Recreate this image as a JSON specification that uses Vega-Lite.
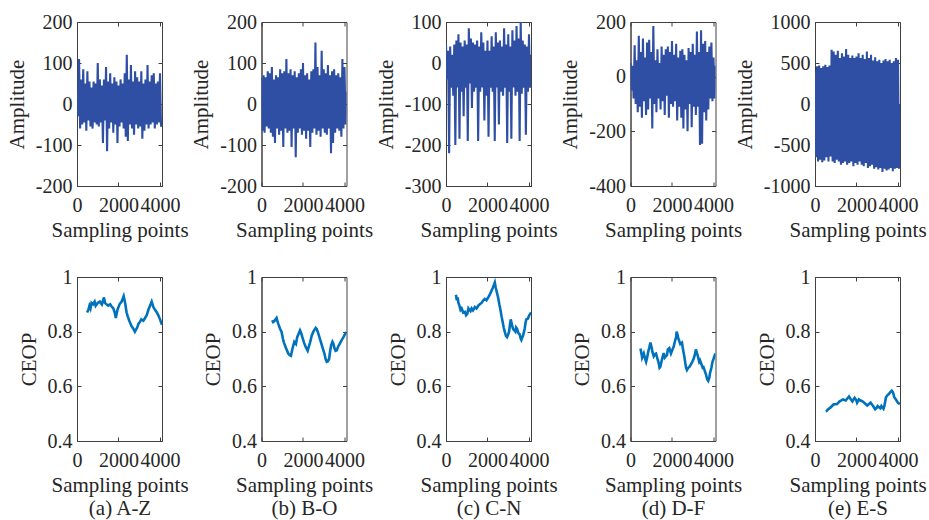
{
"$schema":"https://vega.github.io/schema/vega-lite/v6.json",
"background":"white",
"padding":{"left":5,"top":11,"right":5,"bottom":5},
"bounds":"flush",
"columns":5,
"spacing":{"row":91,"column":99.5},
"config":{
 "view":{"stroke":"#404040","strokeWidth":1},
 "font":"Liberation Serif",
 "axis":{"labelFont":"Liberation Serif","titleFont":"Liberation Serif","labelFontSize":20,"titleFontSize":21,"labelColor":"#262626","titleColor":"#262626","titleFontWeight":"normal","domainColor":"#404040","tickColor":"#404040","tickSize":-4,"grid":false,"labelFlush":false,"labelOverlap":false,"titleLineHeight":23},
 "axisX":{"labelPadding":13,"titlePadding":4},
 "axisY":{"labelPadding":9,"titlePadding":8}
},
"datasets":{
"top":[
{"s":"A","x":0,"y":35},{"s":"A","x":50,"y":-30},{"s":"A","x":100,"y":110},{"s":"A","x":150,"y":-60},{"s":"A","x":200,"y":60},{"s":"A","x":250,"y":-50},{"s":"A","x":300,"y":85},{"s":"A","x":350,"y":-45},{"s":"A","x":400,"y":50},{"s":"A","x":450,"y":-65},{"s":"A","x":500,"y":80},{"s":"A","x":550,"y":-40},{"s":"A","x":600,"y":55},{"s":"A","x":650,"y":-55},{"s":"A","x":700,"y":40},{"s":"A","x":750,"y":-60},{"s":"A","x":800,"y":55},{"s":"A","x":850,"y":-45},{"s":"A","x":900,"y":50},{"s":"A","x":950,"y":-50},{"s":"A","x":1000,"y":100},{"s":"A","x":1050,"y":-55},{"s":"A","x":1100,"y":60},{"s":"A","x":1150,"y":-45},{"s":"A","x":1200,"y":45},{"s":"A","x":1250,"y":-95},{"s":"A","x":1300,"y":60},{"s":"A","x":1350,"y":-40},{"s":"A","x":1400,"y":90},{"s":"A","x":1450,"y":-115},{"s":"A","x":1500,"y":55},{"s":"A","x":1550,"y":-60},{"s":"A","x":1600,"y":75},{"s":"A","x":1650,"y":-45},{"s":"A","x":1700,"y":50},{"s":"A","x":1750,"y":-70},{"s":"A","x":1800,"y":65},{"s":"A","x":1850,"y":-50},{"s":"A","x":1900,"y":55},{"s":"A","x":1950,"y":-95},{"s":"A","x":2000,"y":45},{"s":"A","x":2050,"y":-55},{"s":"A","x":2100,"y":60},{"s":"A","x":2150,"y":-45},{"s":"A","x":2200,"y":50},{"s":"A","x":2250,"y":-60},{"s":"A","x":2300,"y":75},{"s":"A","x":2350,"y":-80},{"s":"A","x":2400,"y":120},{"s":"A","x":2450,"y":-90},{"s":"A","x":2500,"y":60},{"s":"A","x":2550,"y":-50},{"s":"A","x":2600,"y":95},{"s":"A","x":2650,"y":-60},{"s":"A","x":2700,"y":55},{"s":"A","x":2750,"y":-75},{"s":"A","x":2800,"y":80},{"s":"A","x":2850,"y":-50},{"s":"A","x":2900,"y":65},{"s":"A","x":2950,"y":-60},{"s":"A","x":3000,"y":55},{"s":"A","x":3050,"y":-55},{"s":"A","x":3100,"y":80},{"s":"A","x":3150,"y":-85},{"s":"A","x":3200,"y":50},{"s":"A","x":3250,"y":-65},{"s":"A","x":3300,"y":60},{"s":"A","x":3350,"y":-50},{"s":"A","x":3400,"y":95},{"s":"A","x":3450,"y":-60},{"s":"A","x":3500,"y":55},{"s":"A","x":3550,"y":-50},{"s":"A","x":3600,"y":70},{"s":"A","x":3650,"y":-45},{"s":"A","x":3700,"y":75},{"s":"A","x":3750,"y":-60},{"s":"A","x":3800,"y":50},{"s":"A","x":3850,"y":-50},{"s":"A","x":3900,"y":55},{"s":"A","x":3950,"y":-45},{"s":"A","x":4000,"y":75},{"s":"A","x":4050,"y":-55},{"s":"A","x":4097,"y":-50},
{"s":"B","x":0,"y":65},{"s":"B","x":50,"y":-65},{"s":"B","x":100,"y":70},{"s":"B","x":150,"y":-70},{"s":"B","x":200,"y":65},{"s":"B","x":250,"y":-55},{"s":"B","x":300,"y":80},{"s":"B","x":350,"y":-60},{"s":"B","x":400,"y":75},{"s":"B","x":450,"y":-70},{"s":"B","x":500,"y":90},{"s":"B","x":550,"y":-80},{"s":"B","x":600,"y":60},{"s":"B","x":650,"y":-95},{"s":"B","x":700,"y":70},{"s":"B","x":750,"y":-60},{"s":"B","x":800,"y":65},{"s":"B","x":850,"y":-75},{"s":"B","x":900,"y":85},{"s":"B","x":950,"y":-65},{"s":"B","x":1000,"y":75},{"s":"B","x":1050,"y":-105},{"s":"B","x":1100,"y":80},{"s":"B","x":1150,"y":-60},{"s":"B","x":1200,"y":110},{"s":"B","x":1250,"y":-70},{"s":"B","x":1300,"y":75},{"s":"B","x":1350,"y":-65},{"s":"B","x":1400,"y":85},{"s":"B","x":1450,"y":-105},{"s":"B","x":1500,"y":70},{"s":"B","x":1550,"y":-60},{"s":"B","x":1600,"y":80},{"s":"B","x":1650,"y":-130},{"s":"B","x":1700,"y":65},{"s":"B","x":1750,"y":-70},{"s":"B","x":1800,"y":75},{"s":"B","x":1850,"y":-60},{"s":"B","x":1900,"y":85},{"s":"B","x":1950,"y":-75},{"s":"B","x":2000,"y":100},{"s":"B","x":2050,"y":-65},{"s":"B","x":2100,"y":70},{"s":"B","x":2150,"y":-85},{"s":"B","x":2200,"y":75},{"s":"B","x":2250,"y":-65},{"s":"B","x":2300,"y":60},{"s":"B","x":2350,"y":-105},{"s":"B","x":2400,"y":80},{"s":"B","x":2450,"y":-70},{"s":"B","x":2500,"y":85},{"s":"B","x":2550,"y":-60},{"s":"B","x":2600,"y":150},{"s":"B","x":2650,"y":-75},{"s":"B","x":2700,"y":90},{"s":"B","x":2750,"y":-65},{"s":"B","x":2800,"y":70},{"s":"B","x":2850,"y":-80},{"s":"B","x":2900,"y":130},{"s":"B","x":2950,"y":-60},{"s":"B","x":3000,"y":85},{"s":"B","x":3050,"y":-70},{"s":"B","x":3100,"y":75},{"s":"B","x":3150,"y":-75},{"s":"B","x":3200,"y":95},{"s":"B","x":3250,"y":-60},{"s":"B","x":3300,"y":70},{"s":"B","x":3350,"y":-120},{"s":"B","x":3400,"y":80},{"s":"B","x":3450,"y":-95},{"s":"B","x":3500,"y":85},{"s":"B","x":3550,"y":-70},{"s":"B","x":3600,"y":70},{"s":"B","x":3650,"y":-60},{"s":"B","x":3700,"y":75},{"s":"B","x":3750,"y":-65},{"s":"B","x":3800,"y":65},{"s":"B","x":3850,"y":-80},{"s":"B","x":3900,"y":110},{"s":"B","x":3950,"y":-60},{"s":"B","x":4000,"y":90},{"s":"B","x":4050,"y":-50},{"s":"B","x":4097,"y":30},
{"s":"C","x":0,"y":45},{"s":"C","x":50,"y":-40},{"s":"C","x":100,"y":30},{"s":"C","x":150,"y":-220},{"s":"C","x":200,"y":40},{"s":"C","x":250,"y":-60},{"s":"C","x":300,"y":20},{"s":"C","x":350,"y":-80},{"s":"C","x":400,"y":45},{"s":"C","x":450,"y":-200},{"s":"C","x":500,"y":55},{"s":"C","x":550,"y":-60},{"s":"C","x":600,"y":70},{"s":"C","x":650,"y":-185},{"s":"C","x":700,"y":50},{"s":"C","x":750,"y":-70},{"s":"C","x":800,"y":40},{"s":"C","x":850,"y":-130},{"s":"C","x":900,"y":55},{"s":"C","x":950,"y":-60},{"s":"C","x":1000,"y":45},{"s":"C","x":1050,"y":-190},{"s":"C","x":1100,"y":85},{"s":"C","x":1150,"y":-50},{"s":"C","x":1200,"y":60},{"s":"C","x":1250,"y":-110},{"s":"C","x":1300,"y":50},{"s":"C","x":1350,"y":-70},{"s":"C","x":1400,"y":45},{"s":"C","x":1450,"y":-60},{"s":"C","x":1500,"y":55},{"s":"C","x":1550,"y":-190},{"s":"C","x":1600,"y":40},{"s":"C","x":1650,"y":-70},{"s":"C","x":1700,"y":75},{"s":"C","x":1750,"y":-60},{"s":"C","x":1800,"y":50},{"s":"C","x":1850,"y":-140},{"s":"C","x":1900,"y":30},{"s":"C","x":1950,"y":-80},{"s":"C","x":2000,"y":55},{"s":"C","x":2050,"y":-180},{"s":"C","x":2100,"y":30},{"s":"C","x":2150,"y":-60},{"s":"C","x":2200,"y":65},{"s":"C","x":2250,"y":-70},{"s":"C","x":2300,"y":40},{"s":"C","x":2350,"y":-190},{"s":"C","x":2400,"y":75},{"s":"C","x":2450,"y":-60},{"s":"C","x":2500,"y":50},{"s":"C","x":2550,"y":-150},{"s":"C","x":2600,"y":55},{"s":"C","x":2650,"y":-70},{"s":"C","x":2700,"y":40},{"s":"C","x":2750,"y":-80},{"s":"C","x":2800,"y":85},{"s":"C","x":2850,"y":-60},{"s":"C","x":2900,"y":45},{"s":"C","x":2950,"y":-195},{"s":"C","x":3000,"y":70},{"s":"C","x":3050,"y":-70},{"s":"C","x":3100,"y":40},{"s":"C","x":3150,"y":-185},{"s":"C","x":3200,"y":80},{"s":"C","x":3250,"y":-60},{"s":"C","x":3300,"y":55},{"s":"C","x":3350,"y":-80},{"s":"C","x":3400,"y":90},{"s":"C","x":3450,"y":-70},{"s":"C","x":3500,"y":60},{"s":"C","x":3550,"y":-190},{"s":"C","x":3600,"y":100},{"s":"C","x":3650,"y":-75},{"s":"C","x":3700,"y":55},{"s":"C","x":3750,"y":-60},{"s":"C","x":3800,"y":45},{"s":"C","x":3850,"y":-175},{"s":"C","x":3900,"y":40},{"s":"C","x":3950,"y":-70},{"s":"C","x":4000,"y":70},{"s":"C","x":4050,"y":-60},{"s":"C","x":4097,"y":20},
{"s":"D","x":0,"y":50},{"s":"D","x":50,"y":-50},{"s":"D","x":100,"y":40},{"s":"D","x":150,"y":-80},{"s":"D","x":200,"y":115},{"s":"D","x":250,"y":-100},{"s":"D","x":300,"y":60},{"s":"D","x":350,"y":-130},{"s":"D","x":400,"y":150},{"s":"D","x":450,"y":-110},{"s":"D","x":500,"y":90},{"s":"D","x":550,"y":-150},{"s":"D","x":600,"y":140},{"s":"D","x":650,"y":-90},{"s":"D","x":700,"y":70},{"s":"D","x":750,"y":-140},{"s":"D","x":800,"y":125},{"s":"D","x":850,"y":-120},{"s":"D","x":900,"y":135},{"s":"D","x":950,"y":-80},{"s":"D","x":1000,"y":90},{"s":"D","x":1050,"y":-190},{"s":"D","x":1100,"y":185},{"s":"D","x":1150,"y":-100},{"s":"D","x":1200,"y":60},{"s":"D","x":1250,"y":-130},{"s":"D","x":1300,"y":100},{"s":"D","x":1350,"y":-80},{"s":"D","x":1400,"y":50},{"s":"D","x":1450,"y":-120},{"s":"D","x":1500,"y":110},{"s":"D","x":1550,"y":-90},{"s":"D","x":1600,"y":80},{"s":"D","x":1650,"y":-140},{"s":"D","x":1700,"y":100},{"s":"D","x":1750,"y":-70},{"s":"D","x":1800,"y":110},{"s":"D","x":1850,"y":-150},{"s":"D","x":1900,"y":90},{"s":"D","x":1950,"y":-100},{"s":"D","x":2000,"y":130},{"s":"D","x":2050,"y":-110},{"s":"D","x":2100,"y":80},{"s":"D","x":2150,"y":-90},{"s":"D","x":2200,"y":120},{"s":"D","x":2250,"y":-160},{"s":"D","x":2300,"y":70},{"s":"D","x":2350,"y":-110},{"s":"D","x":2400,"y":95},{"s":"D","x":2450,"y":-150},{"s":"D","x":2500,"y":100},{"s":"D","x":2550,"y":-190},{"s":"D","x":2600,"y":80},{"s":"D","x":2650,"y":-120},{"s":"D","x":2700,"y":60},{"s":"D","x":2750,"y":-200},{"s":"D","x":2800,"y":105},{"s":"D","x":2850,"y":-100},{"s":"D","x":2900,"y":90},{"s":"D","x":2950,"y":-185},{"s":"D","x":3000,"y":120},{"s":"D","x":3050,"y":-110},{"s":"D","x":3100,"y":80},{"s":"D","x":3150,"y":-140},{"s":"D","x":3200,"y":165},{"s":"D","x":3250,"y":-110},{"s":"D","x":3300,"y":90},{"s":"D","x":3350,"y":-250},{"s":"D","x":3400,"y":170},{"s":"D","x":3450,"y":-245},{"s":"D","x":3500,"y":120},{"s":"D","x":3550,"y":-130},{"s":"D","x":3600,"y":130},{"s":"D","x":3650,"y":-160},{"s":"D","x":3700,"y":90},{"s":"D","x":3750,"y":-120},{"s":"D","x":3800,"y":110},{"s":"D","x":3850,"y":-80},{"s":"D","x":3900,"y":125},{"s":"D","x":3950,"y":-90},{"s":"D","x":4000,"y":70},{"s":"D","x":4050,"y":-80},{"s":"D","x":4097,"y":40},
{"s":"E","x":0,"y":380},{"s":"E","x":50,"y":-650},{"s":"E","x":100,"y":460},{"s":"E","x":150,"y":-700},{"s":"E","x":200,"y":470},{"s":"E","x":250,"y":-680},{"s":"E","x":300,"y":440},{"s":"E","x":350,"y":-710},{"s":"E","x":400,"y":460},{"s":"E","x":450,"y":-690},{"s":"E","x":500,"y":480},{"s":"E","x":550,"y":-650},{"s":"E","x":600,"y":450},{"s":"E","x":650,"y":-700},{"s":"E","x":700,"y":470},{"s":"E","x":750,"y":-640},{"s":"E","x":800,"y":660},{"s":"E","x":850,"y":-700},{"s":"E","x":900,"y":640},{"s":"E","x":950,"y":-720},{"s":"E","x":1000,"y":600},{"s":"E","x":1050,"y":-680},{"s":"E","x":1100,"y":650},{"s":"E","x":1150,"y":-700},{"s":"E","x":1200,"y":560},{"s":"E","x":1250,"y":-740},{"s":"E","x":1300,"y":620},{"s":"E","x":1350,"y":-720},{"s":"E","x":1400,"y":580},{"s":"E","x":1450,"y":-700},{"s":"E","x":1500,"y":670},{"s":"E","x":1550,"y":-740},{"s":"E","x":1600,"y":600},{"s":"E","x":1650,"y":-720},{"s":"E","x":1700,"y":560},{"s":"E","x":1750,"y":-700},{"s":"E","x":1800,"y":590},{"s":"E","x":1850,"y":-760},{"s":"E","x":1900,"y":560},{"s":"E","x":1950,"y":-720},{"s":"E","x":2000,"y":580},{"s":"E","x":2050,"y":-740},{"s":"E","x":2100,"y":620},{"s":"E","x":2150,"y":-700},{"s":"E","x":2200,"y":560},{"s":"E","x":2250,"y":-740},{"s":"E","x":2300,"y":600},{"s":"E","x":2350,"y":-760},{"s":"E","x":2400,"y":550},{"s":"E","x":2450,"y":-720},{"s":"E","x":2500,"y":640},{"s":"E","x":2550,"y":-780},{"s":"E","x":2600,"y":560},{"s":"E","x":2650,"y":-760},{"s":"E","x":2700,"y":600},{"s":"E","x":2750,"y":-740},{"s":"E","x":2800,"y":530},{"s":"E","x":2850,"y":-790},{"s":"E","x":2900,"y":570},{"s":"E","x":2950,"y":-770},{"s":"E","x":3000,"y":520},{"s":"E","x":3050,"y":-800},{"s":"E","x":3100,"y":540},{"s":"E","x":3150,"y":-780},{"s":"E","x":3200,"y":500},{"s":"E","x":3250,"y":-830},{"s":"E","x":3300,"y":530},{"s":"E","x":3350,"y":-790},{"s":"E","x":3400,"y":550},{"s":"E","x":3450,"y":-810},{"s":"E","x":3500,"y":520},{"s":"E","x":3550,"y":-800},{"s":"E","x":3600,"y":540},{"s":"E","x":3650,"y":-780},{"s":"E","x":3700,"y":500},{"s":"E","x":3750,"y":-820},{"s":"E","x":3800,"y":520},{"s":"E","x":3850,"y":-790},{"s":"E","x":3900,"y":560},{"s":"E","x":3950,"y":-780},{"s":"E","x":4000,"y":540},{"s":"E","x":4050,"y":-790},{"s":"E","x":4097,"y":0}
],
"bot":[
{"s":"A","x":484,"y":0.870},{"s":"A","x":550,"y":0.880},{"s":"A","x":600,"y":0.895},{"s":"A","x":650,"y":0.885},{"s":"A","x":700,"y":0.905},{"s":"A","x":774,"y":0.900},{"s":"A","x":850,"y":0.910},{"s":"A","x":900,"y":0.895},{"s":"A","x":1000,"y":0.905},{"s":"A","x":1100,"y":0.910},{"s":"A","x":1200,"y":0.900},{"s":"A","x":1300,"y":0.925},{"s":"A","x":1350,"y":0.905},{"s":"A","x":1420,"y":0.900},{"s":"A","x":1500,"y":0.895},{"s":"A","x":1600,"y":0.900},{"s":"A","x":1660,"y":0.893},{"s":"A","x":1750,"y":0.885},{"s":"A","x":1820,"y":0.870},{"s":"A","x":1870,"y":0.850},{"s":"A","x":1950,"y":0.880},{"s":"A","x":2050,"y":0.900},{"s":"A","x":2150,"y":0.910},{"s":"A","x":2250,"y":0.930},{"s":"A","x":2320,"y":0.905},{"s":"A","x":2390,"y":0.870},{"s":"A","x":2450,"y":0.855},{"s":"A","x":2520,"y":0.840},{"s":"A","x":2630,"y":0.820},{"s":"A","x":2720,"y":0.810},{"s":"A","x":2790,"y":0.800},{"s":"A","x":2900,"y":0.815},{"s":"A","x":2970,"y":0.830},{"s":"A","x":3030,"y":0.835},{"s":"A","x":3100,"y":0.845},{"s":"A","x":3200,"y":0.840},{"s":"A","x":3280,"y":0.850},{"s":"A","x":3360,"y":0.860},{"s":"A","x":3440,"y":0.880},{"s":"A","x":3520,"y":0.895},{"s":"A","x":3600,"y":0.910},{"s":"A","x":3680,"y":0.890},{"s":"A","x":3760,"y":0.880},{"s":"A","x":3850,"y":0.870},{"s":"A","x":3920,"y":0.860},{"s":"A","x":4000,"y":0.845},{"s":"A","x":4097,"y":0.825},
{"s":"B","x":516,"y":0.842},{"s":"B","x":560,"y":0.835},{"s":"B","x":613,"y":0.838},{"s":"B","x":680,"y":0.845},{"s":"B","x":726,"y":0.850},{"s":"B","x":800,"y":0.830},{"s":"B","x":900,"y":0.810},{"s":"B","x":968,"y":0.799},{"s":"B","x":1030,"y":0.775},{"s":"B","x":1081,"y":0.760},{"s":"B","x":1180,"y":0.740},{"s":"B","x":1290,"y":0.720},{"s":"B","x":1350,"y":0.715},{"s":"B","x":1419,"y":0.712},{"s":"B","x":1500,"y":0.740},{"s":"B","x":1581,"y":0.763},{"s":"B","x":1661,"y":0.755},{"s":"B","x":1720,"y":0.780},{"s":"B","x":1774,"y":0.790},{"s":"B","x":1855,"y":0.805},{"s":"B","x":1910,"y":0.795},{"s":"B","x":1968,"y":0.780},{"s":"B","x":2050,"y":0.760},{"s":"B","x":2129,"y":0.744},{"s":"B","x":2226,"y":0.730},{"s":"B","x":2280,"y":0.745},{"s":"B","x":2339,"y":0.760},{"s":"B","x":2420,"y":0.785},{"s":"B","x":2500,"y":0.800},{"s":"B","x":2613,"y":0.814},{"s":"B","x":2660,"y":0.810},{"s":"B","x":2710,"y":0.800},{"s":"B","x":2790,"y":0.780},{"s":"B","x":2871,"y":0.760},{"s":"B","x":2950,"y":0.740},{"s":"B","x":3032,"y":0.720},{"s":"B","x":3090,"y":0.700},{"s":"B","x":3145,"y":0.690},{"s":"B","x":3200,"y":0.692},{"s":"B","x":3258,"y":0.700},{"s":"B","x":3300,"y":0.725},{"s":"B","x":3355,"y":0.750},{"s":"B","x":3419,"y":0.763},{"s":"B","x":3470,"y":0.755},{"s":"B","x":3516,"y":0.740},{"s":"B","x":3570,"y":0.730},{"s":"B","x":3629,"y":0.732},{"s":"B","x":3690,"y":0.745},{"s":"B","x":3742,"y":0.752},{"s":"B","x":3800,"y":0.760},{"s":"B","x":3871,"y":0.770},{"s":"B","x":3950,"y":0.780},{"s":"B","x":4030,"y":0.792},{"s":"B","x":4097,"y":0.798},
{"s":"C","x":480,"y":0.935},{"s":"C","x":520,"y":0.915},{"s":"C","x":560,"y":0.925},{"s":"C","x":600,"y":0.905},{"s":"C","x":640,"y":0.897},{"s":"C","x":700,"y":0.880},{"s":"C","x":752,"y":0.885},{"s":"C","x":830,"y":0.870},{"s":"C","x":912,"y":0.872},{"s":"C","x":970,"y":0.860},{"s":"C","x":1024,"y":0.865},{"s":"C","x":1080,"y":0.885},{"s":"C","x":1120,"y":0.880},{"s":"C","x":1180,"y":0.875},{"s":"C","x":1232,"y":0.885},{"s":"C","x":1300,"y":0.878},{"s":"C","x":1392,"y":0.890},{"s":"C","x":1470,"y":0.885},{"s":"C","x":1552,"y":0.895},{"s":"C","x":1630,"y":0.900},{"s":"C","x":1712,"y":0.905},{"s":"C","x":1800,"y":0.915},{"s":"C","x":1872,"y":0.920},{"s":"C","x":1950,"y":0.915},{"s":"C","x":2032,"y":0.925},{"s":"C","x":2110,"y":0.935},{"s":"C","x":2192,"y":0.950},{"s":"C","x":2250,"y":0.960},{"s":"C","x":2304,"y":0.970},{"s":"C","x":2352,"y":0.980},{"s":"C","x":2400,"y":0.960},{"s":"C","x":2432,"y":0.950},{"s":"C","x":2512,"y":0.925},{"s":"C","x":2570,"y":0.900},{"s":"C","x":2624,"y":0.880},{"s":"C","x":2680,"y":0.855},{"s":"C","x":2720,"y":0.840},{"s":"C","x":2780,"y":0.815},{"s":"C","x":2832,"y":0.800},{"s":"C","x":2890,"y":0.785},{"s":"C","x":2944,"y":0.780},{"s":"C","x":3000,"y":0.790},{"s":"C","x":3040,"y":0.800},{"s":"C","x":3090,"y":0.830},{"s":"C","x":3120,"y":0.845},{"s":"C","x":3180,"y":0.825},{"s":"C","x":3232,"y":0.810},{"s":"C","x":3290,"y":0.805},{"s":"C","x":3344,"y":0.800},{"s":"C","x":3380,"y":0.815},{"s":"C","x":3424,"y":0.810},{"s":"C","x":3490,"y":0.795},{"s":"C","x":3552,"y":0.790},{"s":"C","x":3600,"y":0.775},{"s":"C","x":3632,"y":0.770},{"s":"C","x":3680,"y":0.780},{"s":"C","x":3712,"y":0.785},{"s":"C","x":3760,"y":0.800},{"s":"C","x":3792,"y":0.810},{"s":"C","x":3840,"y":0.835},{"s":"C","x":3872,"y":0.845},{"s":"C","x":3952,"y":0.848},{"s":"C","x":4010,"y":0.860},{"s":"C","x":4064,"y":0.866},{"s":"C","x":4097,"y":0.870},
{"s":"D","x":480,"y":0.738},{"s":"D","x":540,"y":0.715},{"s":"D","x":560,"y":0.705},{"s":"D","x":640,"y":0.720},{"s":"D","x":690,"y":0.705},{"s":"D","x":752,"y":0.690},{"s":"D","x":800,"y":0.705},{"s":"D","x":864,"y":0.730},{"s":"D","x":900,"y":0.740},{"s":"D","x":960,"y":0.760},{"s":"D","x":1024,"y":0.740},{"s":"D","x":1060,"y":0.725},{"s":"D","x":1120,"y":0.710},{"s":"D","x":1180,"y":0.718},{"s":"D","x":1232,"y":0.720},{"s":"D","x":1300,"y":0.700},{"s":"D","x":1344,"y":0.690},{"s":"D","x":1400,"y":0.668},{"s":"D","x":1440,"y":0.672},{"s":"D","x":1520,"y":0.700},{"s":"D","x":1600,"y":0.722},{"s":"D","x":1650,"y":0.705},{"s":"D","x":1760,"y":0.715},{"s":"D","x":1800,"y":0.735},{"s":"D","x":1872,"y":0.740},{"s":"D","x":1950,"y":0.720},{"s":"D","x":2000,"y":0.730},{"s":"D","x":2080,"y":0.745},{"s":"D","x":2144,"y":0.765},{"s":"D","x":2200,"y":0.780},{"s":"D","x":2224,"y":0.800},{"s":"D","x":2280,"y":0.785},{"s":"D","x":2304,"y":0.775},{"s":"D","x":2400,"y":0.755},{"s":"D","x":2480,"y":0.760},{"s":"D","x":2520,"y":0.740},{"s":"D","x":2592,"y":0.710},{"s":"D","x":2672,"y":0.670},{"s":"D","x":2720,"y":0.660},{"s":"D","x":2784,"y":0.668},{"s":"D","x":2850,"y":0.672},{"s":"D","x":2912,"y":0.680},{"s":"D","x":2980,"y":0.690},{"s":"D","x":3040,"y":0.700},{"s":"D","x":3100,"y":0.715},{"s":"D","x":3152,"y":0.735},{"s":"D","x":3200,"y":0.722},{"s":"D","x":3232,"y":0.715},{"s":"D","x":3312,"y":0.690},{"s":"D","x":3350,"y":0.695},{"s":"D","x":3424,"y":0.680},{"s":"D","x":3480,"y":0.668},{"s":"D","x":3520,"y":0.670},{"s":"D","x":3632,"y":0.645},{"s":"D","x":3700,"y":0.625},{"s":"D","x":3744,"y":0.620},{"s":"D","x":3800,"y":0.632},{"s":"D","x":3824,"y":0.645},{"s":"D","x":3904,"y":0.670},{"s":"D","x":3952,"y":0.690},{"s":"D","x":4000,"y":0.700},{"s":"D","x":4064,"y":0.715},{"s":"D","x":4097,"y":0.720},
{"s":"E","x":514,"y":0.509},{"s":"E","x":560,"y":0.510},{"s":"E","x":620,"y":0.515},{"s":"E","x":740,"y":0.522},{"s":"E","x":820,"y":0.528},{"s":"E","x":900,"y":0.534},{"s":"E","x":1060,"y":0.535},{"s":"E","x":1190,"y":0.545},{"s":"E","x":1350,"y":0.552},{"s":"E","x":1480,"y":0.548},{"s":"E","x":1640,"y":0.563},{"s":"E","x":1700,"y":0.555},{"s":"E","x":1800,"y":0.545},{"s":"E","x":1910,"y":0.558},{"s":"E","x":1990,"y":0.550},{"s":"E","x":2030,"y":0.540},{"s":"E","x":2120,"y":0.552},{"s":"E","x":2200,"y":0.548},{"s":"E","x":2290,"y":0.545},{"s":"E","x":2400,"y":0.538},{"s":"E","x":2520,"y":0.530},{"s":"E","x":2600,"y":0.535},{"s":"E","x":2680,"y":0.540},{"s":"E","x":2800,"y":0.528},{"s":"E","x":2900,"y":0.516},{"s":"E","x":2960,"y":0.520},{"s":"E","x":3020,"y":0.528},{"s":"E","x":3100,"y":0.523},{"s":"E","x":3150,"y":0.520},{"s":"E","x":3200,"y":0.528},{"s":"E","x":3300,"y":0.518},{"s":"E","x":3350,"y":0.530},{"s":"E","x":3420,"y":0.560},{"s":"E","x":3500,"y":0.568},{"s":"E","x":3560,"y":0.572},{"s":"E","x":3620,"y":0.578},{"s":"E","x":3700,"y":0.584},{"s":"E","x":3760,"y":0.578},{"s":"E","x":3820,"y":0.560},{"s":"E","x":3900,"y":0.552},{"s":"E","x":3950,"y":0.545},{"s":"E","x":4000,"y":0.540},{"s":"E","x":4097,"y":0.535}
]
},
"concat":[
{"width":85,"height":164,"data":{"name":"top"},"transform":[{"filter":"datum.s==='A'"}],"resolve":{"axis":{"x":"independent","y":"independent"}},"layer":[
 {"mark":{"type":"line","color":"#2E4FA3","strokeWidth":2.1,"clip":true},"encoding":{"x":{"field":"x","type":"quantitative","scale":{"domain":[0,4097],"nice":false},"axis":{"values":[0,2000,4000],"format":"d","title":"Sampling points"}},"y":{"field":"y","type":"quantitative","scale":{"domain":[-200,200],"nice":false},"axis":{"values":[-200,-100,0,100,200],"format":"d","labelExpr":"replace(datum.label,'−','-')","title":"Amplitude"}}}},
 {"mark":{"type":"line","opacity":0,"clip":true},"encoding":{"x":{"field":"x","type":"quantitative","scale":{"domain":[0,4097],"nice":false},"axis":{"orient":"top","values":[0,2000,4000],"labels":false,"domain":false,"title":null}},"y":{"field":"y","type":"quantitative","scale":{"domain":[-200,200],"nice":false},"axis":{"orient":"right","values":[-200,-100,0,100,200],"labels":false,"domain":false,"title":null}}}}
]},
{"width":85,"height":164,"data":{"name":"top"},"transform":[{"filter":"datum.s==='B'"}],"resolve":{"axis":{"x":"independent","y":"independent"}},"layer":[
 {"mark":{"type":"line","color":"#2E4FA3","strokeWidth":2.1,"clip":true},"encoding":{"x":{"field":"x","type":"quantitative","scale":{"domain":[0,4097],"nice":false},"axis":{"values":[0,2000,4000],"format":"d","title":"Sampling points"}},"y":{"field":"y","type":"quantitative","scale":{"domain":[-200,200],"nice":false},"axis":{"values":[-200,-100,0,100,200],"format":"d","labelExpr":"replace(datum.label,'−','-')","title":"Amplitude"}}}},
 {"mark":{"type":"line","opacity":0,"clip":true},"encoding":{"x":{"field":"x","type":"quantitative","scale":{"domain":[0,4097],"nice":false},"axis":{"orient":"top","values":[0,2000,4000],"labels":false,"domain":false,"title":null}},"y":{"field":"y","type":"quantitative","scale":{"domain":[-200,200],"nice":false},"axis":{"orient":"right","values":[-200,-100,0,100,200],"labels":false,"domain":false,"title":null}}}}
]},
{"width":85,"height":164,"data":{"name":"top"},"transform":[{"filter":"datum.s==='C'"}],"resolve":{"axis":{"x":"independent","y":"independent"}},"layer":[
 {"mark":{"type":"line","color":"#2E4FA3","strokeWidth":2.1,"clip":true},"encoding":{"x":{"field":"x","type":"quantitative","scale":{"domain":[0,4097],"nice":false},"axis":{"values":[0,2000,4000],"format":"d","title":"Sampling points"}},"y":{"field":"y","type":"quantitative","scale":{"domain":[-300,100],"nice":false},"axis":{"values":[-300,-200,-100,0,100],"format":"d","labelExpr":"replace(datum.label,'−','-')","title":"Amplitude"}}}},
 {"mark":{"type":"line","opacity":0,"clip":true},"encoding":{"x":{"field":"x","type":"quantitative","scale":{"domain":[0,4097],"nice":false},"axis":{"orient":"top","values":[0,2000,4000],"labels":false,"domain":false,"title":null}},"y":{"field":"y","type":"quantitative","scale":{"domain":[-300,100],"nice":false},"axis":{"orient":"right","values":[-300,-200,-100,0,100],"labels":false,"domain":false,"title":null}}}}
]},
{"width":85,"height":164,"data":{"name":"top"},"transform":[{"filter":"datum.s==='D'"}],"resolve":{"axis":{"x":"independent","y":"independent"}},"layer":[
 {"mark":{"type":"line","color":"#2E4FA3","strokeWidth":2.1,"clip":true},"encoding":{"x":{"field":"x","type":"quantitative","scale":{"domain":[0,4097],"nice":false},"axis":{"values":[0,2000,4000],"format":"d","title":"Sampling points"}},"y":{"field":"y","type":"quantitative","scale":{"domain":[-400,200],"nice":false},"axis":{"values":[-400,-200,0,200],"format":"d","labelExpr":"replace(datum.label,'−','-')","title":"Amplitude"}}}},
 {"mark":{"type":"line","opacity":0,"clip":true},"encoding":{"x":{"field":"x","type":"quantitative","scale":{"domain":[0,4097],"nice":false},"axis":{"orient":"top","values":[0,2000,4000],"labels":false,"domain":false,"title":null}},"y":{"field":"y","type":"quantitative","scale":{"domain":[-400,200],"nice":false},"axis":{"orient":"right","values":[-400,-200,0,200],"labels":false,"domain":false,"title":null}}}}
]},
{"width":85,"height":164,"data":{"name":"top"},"transform":[{"filter":"datum.s==='E'"}],"resolve":{"axis":{"x":"independent","y":"independent"}},"layer":[
 {"mark":{"type":"line","color":"#2E4FA3","strokeWidth":2.1,"clip":true},"encoding":{"x":{"field":"x","type":"quantitative","scale":{"domain":[0,4097],"nice":false},"axis":{"values":[0,2000,4000],"format":"d","title":"Sampling points"}},"y":{"field":"y","type":"quantitative","scale":{"domain":[-1000,1000],"nice":false},"axis":{"values":[-1000,-500,0,500,1000],"format":"d","labelExpr":"replace(datum.label,'−','-')","title":"Amplitude"}}}},
 {"mark":{"type":"line","opacity":0,"clip":true},"encoding":{"x":{"field":"x","type":"quantitative","scale":{"domain":[0,4097],"nice":false},"axis":{"orient":"top","values":[0,2000,4000],"labels":false,"domain":false,"title":null}},"y":{"field":"y","type":"quantitative","scale":{"domain":[-1000,1000],"nice":false},"axis":{"orient":"right","values":[-1000,-500,0,500,1000],"labels":false,"domain":false,"title":null}}}}
]},
{"width":85,"height":164,"data":{"name":"bot"},"transform":[{"filter":"datum.s==='A'"}],"resolve":{"axis":{"x":"independent","y":"independent"}},"layer":[
 {"mark":{"type":"line","color":"#0072BD","strokeWidth":2.6,"clip":true},"encoding":{"x":{"field":"x","type":"quantitative","scale":{"domain":[0,4097],"nice":false},"axis":{"values":[0,2000,4000],"format":"d","title":["Sampling points","(a) A-Z"]}},"y":{"field":"y","type":"quantitative","scale":{"domain":[0.4,1],"nice":false},"axis":{"values":[0.4,0.6,0.8,1],"format":"~g","title":"CEOP"}}}},
 {"mark":{"type":"line","opacity":0,"clip":true},"encoding":{"x":{"field":"x","type":"quantitative","scale":{"domain":[0,4097],"nice":false},"axis":{"orient":"top","values":[0,2000,4000],"labels":false,"domain":false,"title":null}},"y":{"field":"y","type":"quantitative","scale":{"domain":[0.4,1],"nice":false},"axis":{"orient":"right","values":[0.4,0.6,0.8,1],"labels":false,"domain":false,"title":null}}}}
]},
{"width":85,"height":164,"data":{"name":"bot"},"transform":[{"filter":"datum.s==='B'"}],"resolve":{"axis":{"x":"independent","y":"independent"}},"layer":[
 {"mark":{"type":"line","color":"#0072BD","strokeWidth":2.6,"clip":true},"encoding":{"x":{"field":"x","type":"quantitative","scale":{"domain":[0,4097],"nice":false},"axis":{"values":[0,2000,4000],"format":"d","title":["Sampling points","(b) B-O"]}},"y":{"field":"y","type":"quantitative","scale":{"domain":[0.4,1],"nice":false},"axis":{"values":[0.4,0.6,0.8,1],"format":"~g","title":"CEOP"}}}},
 {"mark":{"type":"line","opacity":0,"clip":true},"encoding":{"x":{"field":"x","type":"quantitative","scale":{"domain":[0,4097],"nice":false},"axis":{"orient":"top","values":[0,2000,4000],"labels":false,"domain":false,"title":null}},"y":{"field":"y","type":"quantitative","scale":{"domain":[0.4,1],"nice":false},"axis":{"orient":"right","values":[0.4,0.6,0.8,1],"labels":false,"domain":false,"title":null}}}}
]},
{"width":85,"height":164,"data":{"name":"bot"},"transform":[{"filter":"datum.s==='C'"}],"resolve":{"axis":{"x":"independent","y":"independent"}},"layer":[
 {"mark":{"type":"line","color":"#0072BD","strokeWidth":2.6,"clip":true},"encoding":{"x":{"field":"x","type":"quantitative","scale":{"domain":[0,4097],"nice":false},"axis":{"values":[0,2000,4000],"format":"d","title":["Sampling points","(c) C-N"]}},"y":{"field":"y","type":"quantitative","scale":{"domain":[0.4,1],"nice":false},"axis":{"values":[0.4,0.6,0.8,1],"format":"~g","title":"CEOP"}}}},
 {"mark":{"type":"line","opacity":0,"clip":true},"encoding":{"x":{"field":"x","type":"quantitative","scale":{"domain":[0,4097],"nice":false},"axis":{"orient":"top","values":[0,2000,4000],"labels":false,"domain":false,"title":null}},"y":{"field":"y","type":"quantitative","scale":{"domain":[0.4,1],"nice":false},"axis":{"orient":"right","values":[0.4,0.6,0.8,1],"labels":false,"domain":false,"title":null}}}}
]},
{"width":85,"height":164,"data":{"name":"bot"},"transform":[{"filter":"datum.s==='D'"}],"resolve":{"axis":{"x":"independent","y":"independent"}},"layer":[
 {"mark":{"type":"line","color":"#0072BD","strokeWidth":2.6,"clip":true},"encoding":{"x":{"field":"x","type":"quantitative","scale":{"domain":[0,4097],"nice":false},"axis":{"values":[0,2000,4000],"format":"d","title":["Sampling points","(d) D-F"]}},"y":{"field":"y","type":"quantitative","scale":{"domain":[0.4,1],"nice":false},"axis":{"values":[0.4,0.6,0.8,1],"format":"~g","title":"CEOP"}}}},
 {"mark":{"type":"line","opacity":0,"clip":true},"encoding":{"x":{"field":"x","type":"quantitative","scale":{"domain":[0,4097],"nice":false},"axis":{"orient":"top","values":[0,2000,4000],"labels":false,"domain":false,"title":null}},"y":{"field":"y","type":"quantitative","scale":{"domain":[0.4,1],"nice":false},"axis":{"orient":"right","values":[0.4,0.6,0.8,1],"labels":false,"domain":false,"title":null}}}}
]},
{"width":85,"height":164,"data":{"name":"bot"},"transform":[{"filter":"datum.s==='E'"}],"resolve":{"axis":{"x":"independent","y":"independent"}},"layer":[
 {"mark":{"type":"line","color":"#0072BD","strokeWidth":2.6,"clip":true},"encoding":{"x":{"field":"x","type":"quantitative","scale":{"domain":[0,4097],"nice":false},"axis":{"values":[0,2000,4000],"format":"d","title":["Sampling points","(e) E-S"]}},"y":{"field":"y","type":"quantitative","scale":{"domain":[0.4,1],"nice":false},"axis":{"values":[0.4,0.6,0.8,1],"format":"~g","title":"CEOP"}}}},
 {"mark":{"type":"line","opacity":0,"clip":true},"encoding":{"x":{"field":"x","type":"quantitative","scale":{"domain":[0,4097],"nice":false},"axis":{"orient":"top","values":[0,2000,4000],"labels":false,"domain":false,"title":null}},"y":{"field":"y","type":"quantitative","scale":{"domain":[0.4,1],"nice":false},"axis":{"orient":"right","values":[0.4,0.6,0.8,1],"labels":false,"domain":false,"title":null}}}}
]}
]
}
